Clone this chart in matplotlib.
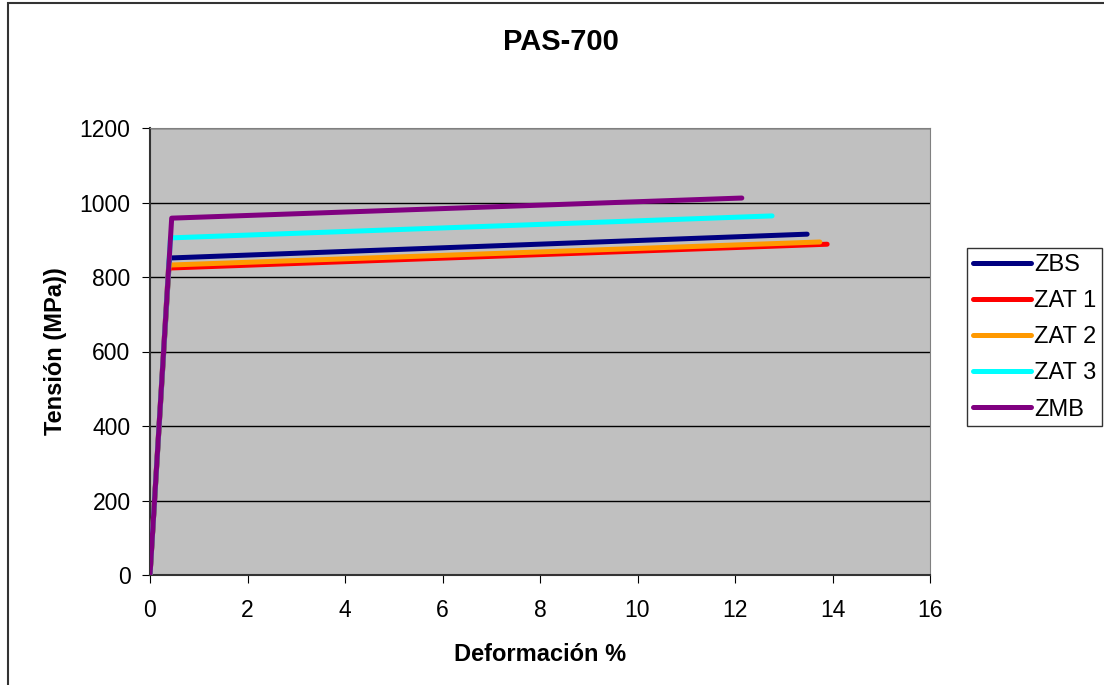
import matplotlib
matplotlib.use("Agg")
from matplotlib import pyplot as plt

plt.rcParams['font.family'] = ['Liberation Sans', 'DejaVu Sans']

# datos: (0,0) -> codo -> final
series = ["ZBS", "ZAT 1", "ZAT 2", "ZAT 3", "ZMB"]
colores = ["#000080", "#FF0000", "#FF9900", "#00FFFF", "#800080"]
x_codo = [0.40, 0.38, 0.39, 0.42, 0.445]
y_codo = [851, 824, 832, 905, 958]
x_fin = [13.48, 13.89, 13.74, 12.76, 12.14]
y_fin = [915, 888, 894, 964, 1012]

fig = plt.figure(figsize=(11.04, 6.85), dpi=100)
ax = fig.add_axes([150/1104, 1 - 575/685, 780/1104, 447/685])
ax.set_facecolor("#C0C0C0")

for i in range(len(series)):
    ax.plot([0, x_codo[i], x_fin[i]], [0, y_codo[i], y_fin[i]],
            color=colores[i], lw=3.6, label=series[i],
            solid_capstyle='round', zorder=3)

ax.set_xlim(0, 16)
ax.set_ylim(0, 1200)
ax.set_xticks(range(0, 17, 2))
ax.set_yticks(range(0, 1201, 200))
ax.yaxis.grid(True, color='black', lw=1)
ax.set_axisbelow(True)
ax.tick_params(labelsize=16.5, direction='out', length=6, color='black')
ax.tick_params(axis='x', pad=11)
ax.tick_params(axis='y', pad=8)
for s in ax.spines.values():
    s.set_color('#808080')
ax.spines['left'].set_color('#333333')
ax.spines['left'].set_linewidth(1.5)
ax.spines['bottom'].set_color('#333333')
ax.spines['bottom'].set_linewidth(1.5)

ax.set_xlabel("Deformación %", fontsize=17, fontweight='bold')
ax.set_ylabel("Tensión (MPa))", fontsize=17, fontweight='bold')
ax.xaxis.set_label_coords(0.5, (575 - 643) / 447)
ax.yaxis.set_label_coords((67 - 150) / 780, 0.5)
fig.text(561/1104, 1 - 42/685, "PAS-700", fontsize=21, fontweight='bold',
         ha='center', va='center')

leg = fig.legend(loc='upper left', bbox_to_anchor=(967/1104, 1 - 248/685),
                 fontsize=17, frameon=True, fancybox=False, borderpad=0.25,
                 handlelength=2.45, handletextpad=0.15, labelspacing=0.6,
                 borderaxespad=0)
leg.get_frame().set_edgecolor('black')
leg.get_frame().set_linewidth(1)

# borde exterior (solo se ve arriba y a la izquierda)
fig.patches.append(plt.Rectangle((8/1104, -0.1), 1.2, 1.1 - 3/685, transform=fig.transFigure,
                                 fill=False, edgecolor='#333333', lw=1.5))

fig.savefig("out.png", dpi=100)
